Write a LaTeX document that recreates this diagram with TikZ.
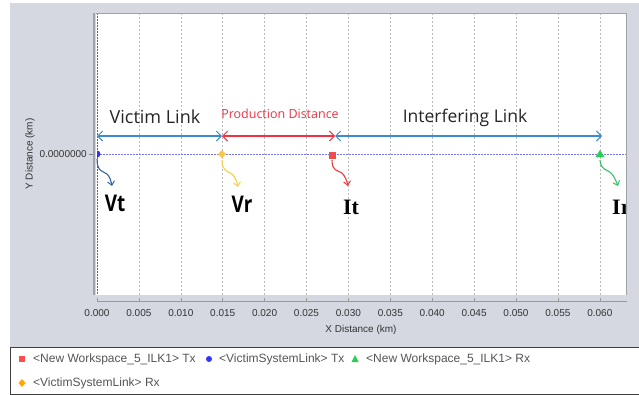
\documentclass[tikz,border=0pt]{standalone}
\usepackage{fontspec}
\setmainfont{Liberation Sans}
\newfontfamily\labfont{Open Sans}
\newfontfamily\serbf{Liberation Serif}
\usetikzlibrary{arrows.meta}
\definecolor{bggray}{HTML}{D5D8E0}
\definecolor{framegray}{HTML}{A0A2A8}
\definecolor{linkblue}{HTML}{3C8AD2}
\definecolor{linkred}{HTML}{EE3344}
\definecolor{dotblue}{HTML}{7474EC}
\definecolor{vtcol}{HTML}{3A64A0}
\definecolor{vrcol}{HTML}{F5D04A}
\definecolor{itcol}{HTML}{EE3A3A}
\definecolor{ircol}{HTML}{34C268}
\definecolor{legtext}{HTML}{555555}
\tikzset{
  linkarrow/.style={line width=1.3pt,{Straight Barb[length=5pt,width=10pt,line width=0.9pt]}-{Straight Barb[length=5pt,width=10pt,line width=0.9pt]}},
  squig/.style={line width=1.1pt,-{Straight Barb[length=4pt,width=7pt,line width=1pt]}},
  grid/.style={dash pattern=on 2pt off 2pt,draw=gray!55,line width=0.6pt},
  ticklab/.style={font=\fontsize{10}{12}\selectfont,text=black!80,inner sep=0pt},
  leglab/.style={font=\fontsize{12}{14}\selectfont,text=legtext,inner sep=0pt,anchor=west},
  bigsans/.style={font=\labfont\bfseries\fontsize{23}{26}\selectfont,inner sep=0pt},
  bigser/.style={font=\serbf\bfseries\fontsize{22}{24}\selectfont,inner sep=0pt},
}
\begin{document}
\begin{tikzpicture}[x=1pt,y=-1pt]
\useasboundingbox (0,0) rectangle (639,394);
\fill[white] (0,0) rectangle (639,394);
% gray panel
\fill[bggray] (10,3) rectangle (639,347);
% plot area
\fill[white] (96,13) rectangle (626,295);
% grid
\foreach \k in {1,...,12}{
  \draw[grid] ({97+\k*41.9},13) -- ({97+\k*41.9},295);
}
\draw[dotblue!80!black,dash pattern=on 1.5pt off 1.5pt,line width=0.8pt] (97,13) -- (97,295);
% frame
\draw[framegray,line width=1pt] (96,13) -- (626,13) -- (626,295);
\draw[framegray,line width=2pt] (93.5,13) -- (93.5,295);
% horizontal dotted line
\draw[dotblue,dash pattern=on 1.5pt off 1.5pt,line width=1pt] (97,154) -- (626,154);
% y tick
\draw[gray,line width=0.6pt] (89,154) -- (93,154);
\node[ticklab,anchor=east] (ytick) at (87,154) {0.0000000};
\node[ticklab,rotate=90] (ylab) at (30,154) {Y Distance (km)};
% x axis
\draw[gray!80,line width=0.8pt] (97,301) -- (628,301);
\foreach \k/\t in {0/0.000,1/0.005,2/0.010,3/0.015,4/0.020,5/0.025,6/0.030,7/0.035,8/0.040,9/0.045,10/0.050,11/0.055,12/0.060}{
  \draw[gray!80,line width=0.6pt] ({97+\k*41.9},298) -- ({97+\k*41.9},301);
  \node[ticklab] at ({97+\k*41.9},313) {\t};
}
\node[ticklab] (xlab) at (361,330) {X Distance (km)};
% markers coordinates
\coordinate (vt) at (97,154);
\coordinate (vr) at (222,154);
\coordinate (it) at (332,155);
\coordinate (ir) at (600,155);
\coordinate (a0) at (97,136);
\coordinate (a1) at (222,136);
\coordinate (a2) at (335,136);
\coordinate (a3) at (602,136);
% link arrows
\draw[linkarrow,linkblue] (a0) -- (a1);
\draw[linkarrow,linkred] (a1) -- (a2);
\draw[linkarrow,linkblue] (a2) -- (a3);
\node[font=\labfont\fontsize{18}{20}\selectfont,text=black!85,inner sep=0pt] (vl) at (155,117) {Victim Link};
\node[font=\labfont\fontsize{12.5}{14}\selectfont,text=linkred,inner sep=0pt] (pd) at (280,114) {Production Distance};
\node[font=\labfont\fontsize{17.5}{20}\selectfont,text=black!85,inner sep=0pt] (il) at (465,118) {Interfering Link};
% markers
\begin{scope}
\clip (97,13) rectangle (626,295);
\fill[blue!80!white] (vt) circle (3.5);
\end{scope}
\fill[vrcol!90!orange] (vr) ++(0,-4) -- ++(4,4) -- ++(-4,4) -- ++(-4,-4) -- cycle;
\fill[itcol!90!white] (it) ++(-3.5,-3.5) rectangle ++(7,7);
\fill[ircol!80!green] (ir) ++(0,-5) -- ++(4.5,7) -- ++(-9,0) -- cycle;
% squiggly arrows
\coordinate (vtE) at (112,186);
\coordinate (vrE) at (238,187);
\coordinate (itE) at (348,186);
\coordinate (irE) at (618,186);
\draw[squig,vtcol] (97,159) .. controls (97,172) and (103,171) .. (107,174) .. controls (110,177) and (111,181) .. (vtE);
\draw[squig,vrcol] (222,160) .. controls (222,172) and (228,171) .. (232,174) .. controls (235,177) and (237,182) .. (vrE);
\draw[squig,itcol] (332,160) .. controls (332,172) and (338,170) .. (342,173) .. controls (345,176) and (347,181) .. (itE);
\draw[squig,ircol] (600,160) .. controls (601,171) and (607,169) .. (611,173) .. controls (614,176) and (616,181) .. (irE);
% labels
\node[bigsans] (vtl) at (115,203) {\scalebox{0.82}[1]{Vt}};
\node[bigsans] (vrl) at (242,204) {\scalebox{0.82}[1]{Vr}};
\node[bigser] (itl) at (351,207) {It};
\node[bigser,anchor=west] (irl) at (612,207) {Ir};
% right gray strip covering
\fill[bggray] (626.5,3) rectangle (639,347);
\draw[framegray,line width=1pt] (626,13) -- (626,295);
% legend
\draw[black!75,line width=0.8pt,fill=white] (10,347) rectangle (639.5,394.5);
\fill[red!70!white] (18.5,355.5) rectangle (25,362);
\node[leglab] (l1) at (33,359) {<New Workspace\_5\_ILK1> Tx};
\fill[blue!80!white] (209,359) circle (3);
\node[leglab] (l2) at (219,359) {<VictimSystemLink> Tx};
\fill[ircol!80!green] (355,355) -- (358.5,362) -- (351.5,362) -- cycle;
\node[leglab] (l3) at (366,359) {<New Workspace\_5\_ILK1> Rx};
\fill[orange!70!yellow] (22,379) -- (25.5,383) -- (22,387) -- (18.5,383) -- cycle;
\node[leglab] (l4) at (33,383) {<VictimSystemLink> Rx};
\end{tikzpicture}
\end{document}
